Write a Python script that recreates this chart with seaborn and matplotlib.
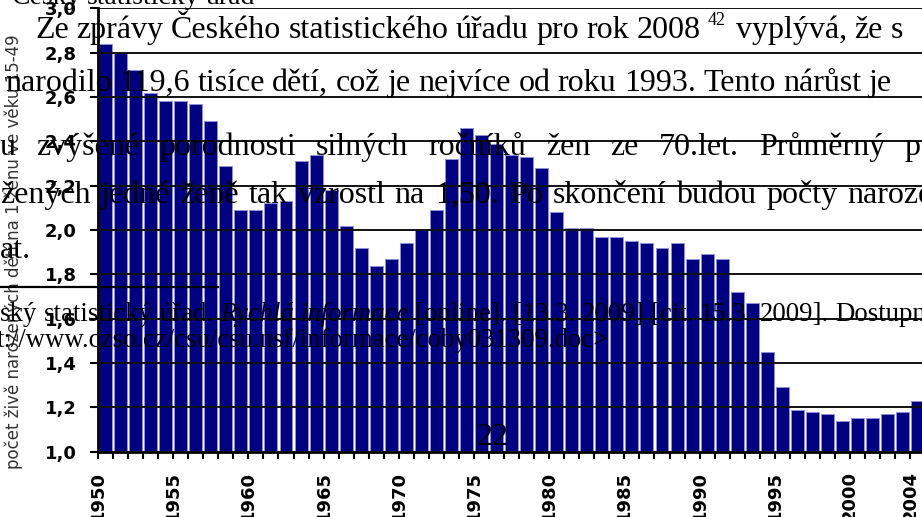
import numpy as np
import pandas as pd
import seaborn as sns
import matplotlib.pyplot as plt
from matplotlib.lines import Line2D

# Úhrnná plodnost v ČR 1950-2004
roky = list(range(1950, 2005))
plodnost = [2.84, 2.80, 2.72, 2.62, 2.58, 2.58, 2.57, 2.49, 2.29, 2.09,
            2.09, 2.12, 2.13, 2.31, 2.34, 2.18, 2.02, 1.92, 1.84, 1.87,
            1.94, 2.00, 2.09, 2.32, 2.46, 2.43, 2.39, 2.34, 2.33, 2.28,
            2.08, 2.01, 2.01, 1.97, 1.97, 1.95, 1.94, 1.92, 1.94, 1.87,
            1.89, 1.87, 1.72, 1.67, 1.45, 1.29, 1.19, 1.18, 1.17, 1.14,
            1.15, 1.15, 1.17, 1.18, 1.23]
popisky_roku = [1950, 1955, 1960, 1965, 1970, 1975, 1980, 1985, 1990, 1995, 2000, 2004]
y_hodnoty = [1.0, 1.2, 1.4, 1.6, 1.8, 2.0, 2.2, 2.4, 2.6, 2.8, 3.0]
y_popisky = ["1,0", "1,2", "1,4", "1,6", "1,8", "2,0", "2,2", "2,4", "2,6", "2,8", "3,0"]
osa_y = "počet živě narozených dětí na 1 ženu ve věku 15-49"

# Text dokumentu, ktery je pres graf
radek_0 = "Český statistický úřad"
radek_1 = "Ze zprávy Českého statistického úřadu pro rok 2008"
radek_1b = "vyplývá, že s"
poznamka_cislo = "42"
radek_2 = "narodilo 119,6 tisíce dětí, což je nejvíce od roku 1993. Tento nárůst je"
radek_3 = "u zvýšené porodnosti silných ročníků žen ze 70.let. Průměrný p"
radek_4 = "žených jedné ženě tak vzrostl na 1,50. Po skončení budou počty naroze"
radek_5 = "at."
pozn_1a = "ský statistický úřad."
pozn_1b = "Rychlá informace"
pozn_1c = "[online]. [13.3. 2009] [cit. 15.3. 2009]. Dostupn"
pozn_2 = "t://www.czso.cz/csu/csu.nsf/informace/coby031309.doc>"
strana = "22"

W, H = 922, 517
fig = plt.figure(figsize=(W / 100, H / 100), dpi=100)
ax = fig.add_axes([98 / W, 1 - 451.7 / H, 55 * 15.04 / W, (451.7 - 8.4) / H])

df = pd.DataFrame({"rok": roky, "plodnost": plodnost})
sns.barplot(data=df, x="rok", y="plodnost", color="#000080", saturation=1,
            width=0.86, edgecolor="#8f8fdc", linewidth=0.7, ax=ax)

ax.set_xlim(-0.5, len(roky) - 0.5)
ax.set_ylim(1.0, 3.0)
ax.set_axisbelow(False)
ax.yaxis.grid(True, color="#111111", linewidth=1.4)
ax.xaxis.grid(False)

ax.set_yticks(y_hodnoty, labels=y_popisky)
pozice = [roky.index(r) - 0.5 for r in popisky_roku]
ax.set_xticks(pozice, labels=[str(r) for r in popisky_roku], rotation=90)
ax.set_xticks(np.arange(len(roky) + 1) - 0.5, minor=True)
for lab in ax.get_xticklabels() + ax.get_yticklabels():
    lab.set_fontweight("bold")
    lab.set_fontsize(13)
    lab.set_family("DejaVu Sans")
ax.tick_params(axis="both", which="both", direction="out", width=1.5, color="black")
ax.tick_params(axis="x", which="both", length=5, pad=8.6)
ax.tick_params(axis="y", which="both", length=5.8, pad=9.4)

ax.set_xlabel("")
ax.set_ylabel(osa_y, fontsize=12, color="#333333", family="DejaVu Sans")
ax.yaxis.set_label_coords((23 - 98) / 827, (451.7 - 252) / 443.3)

for s in ["top", "right"]:
    ax.spines[s].set_visible(False)
for s in ["left", "bottom"]:
    ax.spines[s].set_linewidth(2)
    ax.spines[s].set_color("black")

# pomocna funkce na sazbu slov (x, y v pixelech, y je uctaric)
renderer = fig.canvas.get_renderer()


def sazba(text, x0, y0, size, mezera, style="normal"):
    x = x0
    for slovo in text.split(" "):
        t = fig.text(x / W, 1 - y0 / H, slovo, fontsize=size, family="Liberation Serif",
                     style=style, va="baseline", ha="left", color="black")
        x += t.get_window_extent(renderer).width + mezera
    return x


vel = 23
sazba(radek_0, 12, 4, 20, 6)
x = sazba(radek_1, 35, 38, vel, 7.5)
t = fig.text(x / W, 1 - 25 / H, poznamka_cislo, fontsize=13, family="Liberation Serif", va="baseline")
x += t.get_window_extent(renderer).width + 10
sazba(radek_1b, x, 38, vel, 7.5)
sazba(radek_2, 5, 91, vel, 7.5)
sazba(radek_3, 0, 155, vel, 20)
sazba(radek_4, 0, 203, vel, 10)
sazba(radek_5, 0, 258, vel, 6)

fig.add_artist(Line2D([0, 218 / W], [1 - 287 / H, 1 - 287 / H], color="black", linewidth=1.6))
x = sazba(pozn_1a, 0, 321, 19.3, 6.5)
x = sazba(pozn_1b, x, 321, 19.3, 6.5, style="italic")
sazba(pozn_1c, x, 321, 19.3, 6.5)
sazba(pozn_2, -3, 347, 19.3, 6.5)
sazba(strana, 477, 445, vel, 6)

fig.savefig("out.png", dpi=100)
